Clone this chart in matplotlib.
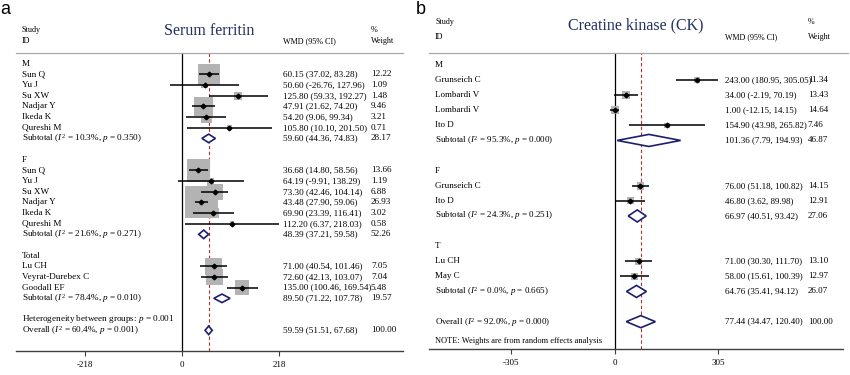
import numpy as np
import matplotlib
matplotlib.use("Agg")
from matplotlib import pyplot as plt
from matplotlib.patches import Rectangle, Polygon
import matplotlib.transforms as mtransforms

plt.rcParams["font.family"] = ["Liberation Serif", "DejaVu Serif"]
plt.rcParams["mathtext.fontset"] = "custom"
plt.rcParams["mathtext.rm"] = "Liberation Serif"
plt.rcParams["mathtext.it"] = "Liberation Serif:italic"

# panel a: serum ferritin
a_groups = ["M", "F", "Total"]
a_sizes = [6, 6, 3]
a_study = ["Sun Q", "Yu J", "Su XW", "Nadjar Y", "Ikeda K", "Qureshi M",
           "Sun Q", "Yu J", "Su XW", "Nadjar Y", "Ikeda K", "Qureshi M",
           "Lu CH", "Veyrat-Durebex C", "Goodall EF"]
a_est = [60.15, 50.60, 125.80, 47.91, 54.20, 105.80,
         36.68, 64.19, 73.30, 43.48, 69.90, 112.20,
         71.00, 72.60, 135.00]
a_lo = [37.02, -26.76, 59.33, 21.62, 9.06, 10.10,
        14.80, -9.91, 42.46, 27.90, 23.39, 6.37,
        40.54, 42.13, 100.46]
a_hi = [83.28, 127.96, 192.27, 74.20, 99.34, 201.50,
        58.56, 138.29, 104.14, 59.06, 116.41, 218.03,
        101.46, 103.07, 169.54]
a_wt = [12.22, 1.09, 1.48, 9.46, 3.21, 0.71,
        13.66, 1.19, 6.88, 26.93, 3.02, 0.58,
        7.05, 7.04, 5.48]
a_sub_est = [59.60, 48.39, 89.50]
a_sub_lo = [44.36, 37.21, 71.22]
a_sub_hi = [74.83, 59.58, 107.78]
a_sub_wt = [28.17, 52.26, 19.57]
a_sub_i2 = ["10.3", "21.6", "78.4"]
a_sub_p = ["0.350", "0.271", "0.010"]
a_overall = [59.59, 51.51, 67.68, 100.00]
a_overall_stats = ["60.4", "0.001"]
a_het_p = "0.001"
a_ticks = [-218, 0, 218]

# panel b: creatine kinase
b_groups = ["M", "F", "T"]
b_sizes = [4, 2, 2]
b_study = ["Grunseich C", "Lombardi V", "Lombardi V", "Ito D",
           "Grunseich C", "Ito D",
           "Lu CH", "May C"]
b_est = [243.00, 34.00, 1.00, 154.90, 76.00, 46.80, 71.00, 58.00]
b_lo = [180.95, -2.19, -12.15, 43.98, 51.18, 3.62, 30.30, 15.61]
b_hi = [305.05, 70.19, 14.15, 265.82, 100.82, 89.98, 111.70, 100.39]
b_wt = [11.34, 13.43, 14.64, 7.46, 14.15, 12.91, 13.10, 12.97]
b_sub_est = [101.36, 66.97, 64.76]
b_sub_lo = [7.79, 40.51, 35.41]
b_sub_hi = [194.93, 93.42, 94.12]
b_sub_wt = [46.87, 27.06, 26.07]
b_sub_i2 = ["95.3", "24.3", "0.0"]
b_sub_p = ["0.000", "0.251", "0.665"]
b_overall = [77.44, 34.47, 120.40, 100.00]
b_overall_stats = ["92.0", "0.000"]
b_ticks = [-305, 0, 305]

W, H = 850, 375
BOX = "#b3b3b3"
NAVY = "#1b1f6e"
TITLE = "#22305f"
REF = "#b5302a"

fig = plt.figure(figsize=(W / 100, H / 100), dpi=100)


def ci_text(e, l, h):
    return "{:.2f} ({:.2f}, {:.2f})".format(e, l, h)


def draw_panel(px, xlim, ylim, title, groups, sizes, study, est, lo, hi, wt,
               s_est, s_lo, s_hi, s_wt, s_i2, s_p, overall, ov_stats,
               het_p, note, ticks, box_px, cols, head_rows, title_row, fs,
               line_end):
    left, right, top, bottom = px
    ax = fig.add_axes([left / W, 1 - bottom / H, (right - left) / W, (bottom - top) / H])
    ax.set_xlim(*xlim)
    ax.set_ylim(*ylim)
    px_x = (right - left) / (xlim[1] - xlim[0])
    px_y = (bottom - top) / (ylim[0] - ylim[1])
    tr = mtransforms.blended_transform_factory(ax.transAxes, ax.transData)
    c_lab, c_wmd, c_wt = cols

    def txt(col, row, s, **kw):
        ax.text(col, row, s, transform=tr, fontsize=kw.pop("size", fs),
                va="center", ha="left", clip_on=False, **kw)

    # headers
    txt(c_lab, head_rows[0], "Study", size=fs - 0.7)
    txt(c_lab, head_rows[1], "ID", size=fs - 0.7)
    txt(c_wmd, head_rows[1], "WMD (95% CI)", size=fs - 0.7)
    txt(c_wt, head_rows[0], "%", size=fs - 0.7)
    txt(c_wt, head_rows[1], "Weight", size=fs - 0.7)
    ax.text(0.5, title_row, title, transform=tr, fontsize=11.5, color=TITLE,
            ha="center", va="center", clip_on=False)
    ax.plot([0, line_end], [1, 1], transform=ax.transAxes, color="#a8a8a8",
            lw=0.9, clip_on=False)

    # reference lines
    ax.axvline(0, color="black", lw=0.9, zorder=1)
    ax.axvline(overall[0], color=REF, lw=0.8, ls=(0, (3, 2.2)), zorder=1)

    row = 0
    k = 0
    for g, n in enumerate(sizes):
        txt(c_lab, row, groups[g])
        for i in range(n):
            r = row + 1 + i
            side = box_px * np.sqrt(wt[k])
            bw, bh = side / px_x, side / px_y
            ax.add_patch(Rectangle((est[k] - bw / 2, r - bh / 2), bw, bh,
                                   fc=BOX, ec="none", zorder=2))
            ax.plot([lo[k], hi[k]], [r, r], color="black", lw=1.1, zorder=3,
                    solid_capstyle="butt")
            ax.plot(est[k], r, marker="D", ms=2.4, color="black", zorder=4)
            txt(c_lab, r, study[k])
            txt(c_wmd, r, ci_text(est[k], lo[k], hi[k]))
            txt(c_wt, r, "{:.2f}".format(wt[k]))
            k += 1
        r = row + n + 1
        ax.add_patch(Polygon([(s_lo[g], r), (s_est[g], r - 0.4), (s_hi[g], r),
                              (s_est[g], r + 0.4)], closed=True, fc="white",
                             ec=NAVY, lw=1.2, zorder=4))
        txt(c_lab, r, r"Subtotal ($I^2$ = {}%, $p$ = {})".format(s_i2[g], s_p[g]))
        txt(c_wmd, r, ci_text(s_est[g], s_lo[g], s_hi[g]))
        txt(c_wt, r, "{:.2f}".format(s_wt[g]))
        row += n + 3

    if het_p is not None:
        txt(c_lab, row - 0.05, r"Heterogeneity between groups: $p$ = {}".format(het_p))
        row += 1
    e, l, h, w = overall
    ax.add_patch(Polygon([(l, row), (e, row - 0.4), (h, row), (e, row + 0.4)],
                         closed=True, fc="white", ec=NAVY, lw=1.2, zorder=4))
    txt(c_lab, row + 0.05, r"Overall ($I^2$ = {}%, $p$ = {})".format(*ov_stats))
    txt(c_wmd, row, ci_text(e, l, h))
    txt(c_wt, row, "{:.2f}".format(w))
    if note:
        txt(c_lab, row + 1.3, note, size=fs - 0.5)

    for s in ["left", "right", "top"]:
        ax.spines[s].set_visible(False)
    ax.spines["bottom"].set_color("#404040")
    ax.spines["bottom"].set_linewidth(1.0)
    ax.set_yticks([])
    ax.set_xticks(ticks)
    ax.set_xticklabels([str(t) for t in ticks])
    ax.tick_params(axis="x", direction="out", length=3.5, width=0.8,
                   color="#404040", labelsize=6.5, pad=4)
    return ax


draw_panel((16, 403, 53, 351), (-374, 497), (26.94, -1.01), "Serum ferritin",
           a_groups, a_sizes, a_study, a_est, a_lo, a_hi, a_wt,
           a_sub_est, a_sub_lo, a_sub_hi, a_sub_wt, a_sub_i2, a_sub_p,
           a_overall, a_overall_stats, a_het_p, None, a_ticks, 6.2,
           (0.0155, 0.69, 0.917), (-3.2, -2.15), -3.1, 6.6, 1.0)

draw_panel((429, 843, 53, 349), (-546.7, 673.4), (18.81, -0.79),
           "Creatine kinase (CK)",
           b_groups, b_sizes, b_study, b_est, b_lo, b_hi, b_wt,
           b_sub_est, b_sub_lo, b_sub_hi, b_sub_wt, b_sub_i2, b_sub_p,
           b_overall, b_overall_stats, None,
           "NOTE: Weights are from random effects analysis", b_ticks, 2.0,
           (0.0145, 0.715, 0.915), (-2.85, -1.85), -2.65, 6.5, 1.012)

fig.text(5 / W, 1 - 10 / H, "a", family="Liberation Sans", fontsize=13,
         ha="center", va="center")
fig.text(421 / W, 1 - 9 / H, "b", family="Liberation Sans", fontsize=13,
         ha="center", va="center")

fig.savefig("out.png", dpi=100)
